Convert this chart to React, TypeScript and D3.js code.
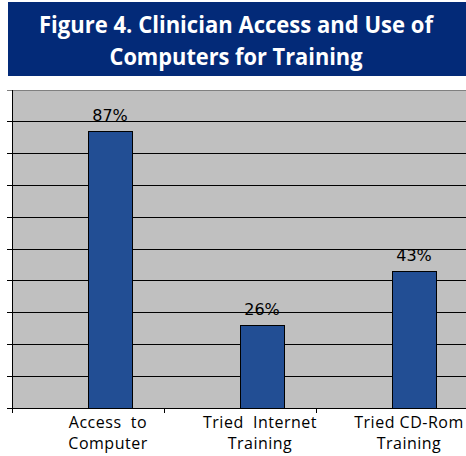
import * as d3 from "d3";

const categories = ["Access to Computer", "Tried Internet Training", "Tried CD-Rom Training"];
const labelLines = [["Access  to", "Computer"], ["Tried  Internet", "Training"], ["Tried CD-Rom", "Training"]];
const values = [87, 26, 43];
const yTicks = d3.range(0, 101, 10);
const titleLines = ["Figure 4. Clinician Access and Use of", "Computers for Training"];

const W = 466;
const H = 456;
const plot = { left: 12, right: 468, top: 90, bottom: 408 };

export default function App() {
  const x = d3.scaleBand<string>().domain(categories).range([plot.left, plot.right]).padding(0);
  const y = d3.scaleLinear().domain([0, 100]).range([plot.bottom, plot.top]);
  const bw = 44;
  // bars sit in the right half of each category band
  const barX = (c: string) => (x(c) ?? 0) + x.bandwidth() / 2;

  return (
    <svg width={W} height={H} style={{ position: "fixed", left: 0, top: 0 }}>
      <rect x={0} y={0} width={W} height={H} fill="#fff" />
      {/* title banner */}
      <rect x={8} y={2} width={W - 8} height={74} fill="#032a78" />
      {titleLines.map((t, i) => (
        <text
          key={t}
          x={236}
          y={33 + i * 32}
          textAnchor="middle"
          fill="#fff"
          fontFamily="'Open Sans', sans-serif"
          fontWeight={700}
          fontSize={24}
          textLength={i === 0 ? 394 : 253}
          lengthAdjust="spacingAndGlyphs"
        >
          {t}
        </text>
      ))}

      {/* plot area */}
      <rect x={plot.left} y={plot.top} width={W - plot.left} height={plot.bottom - plot.top} fill="#c0c0c0" />
      {yTicks.map((t) => (
        <line key={t} x1={7} x2={W} y1={y(t)} y2={y(t)} stroke={t === 100 ? "#808080" : "#000"} strokeWidth={1} shapeRendering="crispEdges" />
      ))}
      <line x1={plot.left} x2={plot.left} y1={plot.top} y2={plot.bottom + 5} stroke="#000" shapeRendering="crispEdges" />
      {categories.slice(1).map((c) => (
        <line key={c} x1={x(c)} x2={x(c)} y1={plot.bottom} y2={plot.bottom + 5} stroke="#000" shapeRendering="crispEdges" />
      ))}

      {categories.map((c, i) => (
        <g key={c}>
          <rect
            x={barX(c)}
            y={y(values[i])}
            width={bw}
            height={plot.bottom - y(values[i])}
            fill="#224e94"
            stroke="#000"
            strokeWidth={1}
            shapeRendering="crispEdges"
          />
          <text
            x={barX(c) + bw / 2}
            y={y(values[i]) - 10}
            textAnchor="middle"
            fontFamily="'DejaVu Sans', sans-serif"
            fontSize={16}
            fill="#000"
          >
            {values[i]}%
          </text>
          {labelLines[i].map((l, j) => (
            <text
              key={l}
              x={barX(c) + bw / 2 - (i === 2 ? 5 : 2)}
              y={428 + j * 21}
              textAnchor="middle"
              fontFamily="'Open Sans', sans-serif"
              fontSize={16}
              letterSpacing={0.5}
              fill="#000"
              style={{ whiteSpace: "pre" }}
            >
              {l}
            </text>
          ))}
        </g>
      ))}
    </svg>
  );
}
